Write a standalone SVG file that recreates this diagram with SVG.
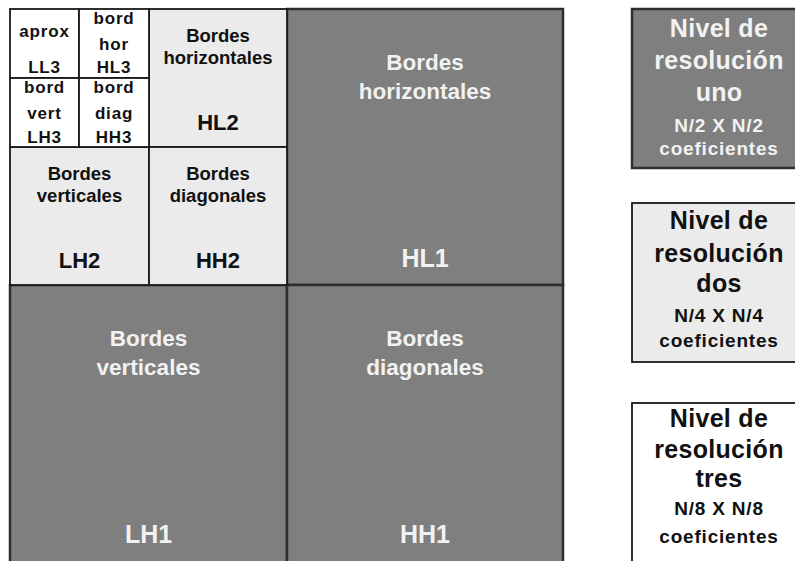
<svg xmlns="http://www.w3.org/2000/svg" width="795" height="561" viewBox="0 0 795 561">
  <style>
    .dark { fill: #7f7f7f; stroke: #2e2e2e; stroke-width: 2.5; }
    .light { fill: #ebebeb; stroke: #1a1a1a; stroke-width: 1.8; }
    .white { fill: #ffffff; stroke: #1a1a1a; stroke-width: 1.8; }
    text { font-family: "Liberation Sans", Arial, sans-serif; font-weight: bold; text-anchor: middle; }
    .tw { fill: #f2f2f2; }
    .tb { fill: #111111; }
    .s3 { font-size: 17px; letter-spacing: 0.8px; }
    .s2 { font-size: 18.5px; }
    .l2 { font-size: 22px; }
    .s1 { font-size: 22.5px; }
    .l1 { font-size: 25px; }
    .big { font-size: 25px; letter-spacing: 0.3px; }
    .small { font-size: 19px; letter-spacing: 0.8px; }
  </style>

  <rect width="795" height="561" fill="#ffffff"/>

  <!-- level 1 quadrants -->
  <g id="HL1">
    <rect class="dark" x="287" y="9" width="276" height="276"/>
    <text class="tw s1" x="425" y="70">Bordes</text>
    <text class="tw s1" x="425" y="99">horizontales</text>
    <text class="tw l1" x="425" y="267">HL1</text>
  </g>
  <g id="LH1">
    <rect class="dark" x="10" y="285" width="277" height="280"/>
    <text class="tw s1" x="148.5" y="346">Bordes</text>
    <text class="tw s1" x="148.5" y="375">verticales</text>
    <text class="tw l1" x="148.5" y="543">LH1</text>
  </g>
  <g id="HH1">
    <rect class="dark" x="287" y="285" width="276" height="280"/>
    <text class="tw s1" x="425" y="346">Bordes</text>
    <text class="tw s1" x="425" y="375">diagonales</text>
    <text class="tw l1" x="425" y="543">HH1</text>
  </g>

  <!-- level 2 quadrants -->
  <g id="HL2">
    <rect class="light" x="149" y="9" width="138" height="138"/>
    <text class="tb s2" x="218" y="42">Bordes</text>
    <text class="tb s2" x="218" y="64">horizontales</text>
    <text class="tb l2" x="218" y="130">HL2</text>
  </g>
  <g id="LH2">
    <rect class="light" x="10" y="147" width="139" height="138"/>
    <text class="tb s2" x="79.5" y="180">Bordes</text>
    <text class="tb s2" x="79.5" y="202">verticales</text>
    <text class="tb l2" x="79.5" y="268">LH2</text>
  </g>
  <g id="HH2">
    <rect class="light" x="149" y="147" width="138" height="138"/>
    <text class="tb s2" x="218" y="180">Bordes</text>
    <text class="tb s2" x="218" y="202">diagonales</text>
    <text class="tb l2" x="218" y="268">HH2</text>
  </g>

  <!-- level 3 quadrants -->
  <g id="LL3">
    <rect class="white" x="10" y="9" width="69" height="69"/>
    <text class="tb s3" x="44.5" y="37">aprox</text>
    <text class="tb s3" x="44.5" y="73">LL3</text>
  </g>
  <g id="HL3">
    <rect class="white" x="79" y="9" width="70" height="69"/>
    <text class="tb s3" x="114" y="24">bord</text>
    <text class="tb s3" x="114" y="50">hor</text>
    <text class="tb s3" x="114" y="73">HL3</text>
  </g>
  <g id="LH3">
    <rect class="white" x="10" y="78" width="69" height="69"/>
    <text class="tb s3" x="44.5" y="93">bord</text>
    <text class="tb s3" x="44.5" y="119">vert</text>
    <text class="tb s3" x="44.5" y="143">LH3</text>
  </g>
  <g id="HH3">
    <rect class="white" x="79" y="78" width="70" height="69"/>
    <text class="tb s3" x="114" y="93">bord</text>
    <text class="tb s3" x="114" y="119">diag</text>
    <text class="tb s3" x="114" y="143">HH3</text>
  </g>

  <!-- legend -->
  <g id="nivel-uno">
    <rect class="dark" x="632" y="9" width="175" height="159"/>
    <text class="tw big" x="719" y="37">Nivel de</text>
    <text class="tw big" x="719" y="69">resolución</text>
    <text class="tw big" x="719" y="101">uno</text>
    <text class="tw small" x="719" y="132">N/2 X N/2</text>
    <text class="tw small" x="719" y="155">coeficientes</text>
  </g>
  <g id="nivel-dos">
    <rect class="light" x="632" y="203" width="175" height="159"/>
    <text class="tb big" x="719" y="229">Nivel de</text>
    <text class="tb big" x="719" y="262">resolución</text>
    <text class="tb big" x="719" y="292">dos</text>
    <text class="tb small" x="719" y="322">N/4 X N/4</text>
    <text class="tb small" x="719" y="347">coeficientes</text>
  </g>
  <g id="nivel-tres">
    <rect class="white" x="632" y="403" width="175" height="170"/>
    <text class="tb big" x="719" y="427">Nivel de</text>
    <text class="tb big" x="719" y="458">resolución</text>
    <text class="tb big" x="719" y="487">tres</text>
    <text class="tb small" x="719" y="515">N/8 X N/8</text>
    <text class="tb small" x="719" y="543">coeficientes</text>
  </g>
</svg>
